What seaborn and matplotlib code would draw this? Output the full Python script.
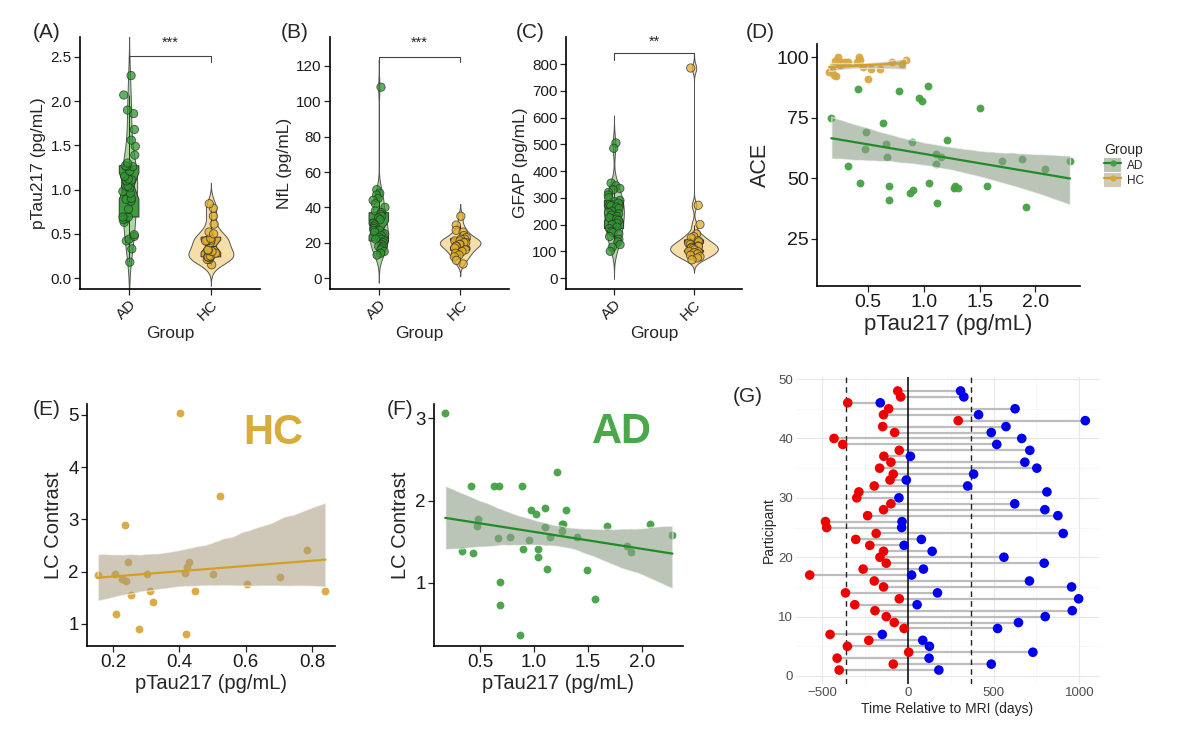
import numpy as np
import pandas as pd
import matplotlib
matplotlib.use('Agg')
import matplotlib.pyplot as plt
import seaborn as sns
from matplotlib.lines import Line2D
from matplotlib.patches import Patch
from matplotlib.legend_handler import HandlerTuple

# ---- panels A-C : biomarkers by group ----
ad_ptau = [0.18, 0.33, 0.42, 0.44, 0.47, 0.49, 0.63, 0.67, 0.66, 0.69, 0.69, 0.78, 0.87,
           0.89, 0.90, 0.96, 0.98, 1.02, 1.04, 1.04, 1.10, 1.11, 1.12, 1.15, 1.21, 1.26,
           1.26, 1.27, 1.30, 1.39, 1.49, 1.56, 1.68, 1.86, 1.90, 2.07, 2.29]
hc_ptau = [0.15, 0.21, 0.21, 0.23, 0.24, 0.24, 0.24, 0.25, 0.28, 0.30, 0.31, 0.32, 0.40,
           0.42, 0.42, 0.43, 0.42, 0.45, 0.52, 0.50, 0.61, 0.70, 0.79, 0.84]
ad_nfl = [108, 50, 48, 47, 45, 44, 42, 40, 38, 37, 36, 35, 34, 33, 31, 31, 30, 29, 28,
          27, 27, 26, 25, 24, 23, 22, 22, 21, 20, 19, 18, 18, 17, 16, 15, 14, 13]
hc_nfl = [35, 30, 27, 26, 24, 23, 22, 22, 21, 21, 20, 20, 19, 19, 18, 18, 17, 16, 15,
          14, 13, 12, 10, 8]
ad_gfap = [505, 485, 355, 345, 335, 330, 320, 310, 300, 290, 285, 280, 275, 270, 265, 260,
           250, 245, 240, 235, 230, 225, 220, 215, 205, 200, 190, 185, 175, 170, 165, 155,
           145, 135, 125, 115, 100]
hc_gfap = [785, 272, 200, 165, 155, 150, 140, 135, 130, 125, 120, 118, 115, 112, 110, 105,
           100, 98, 95, 90, 85, 80, 75, 68]

# ---- panel D : ACE vs pTau217 ----
d_ad_ptau = [0.17, 0.32, 0.41, 0.43, 0.48, 0.63, 0.47, 0.66, 0.67, 0.69, 0.69, 0.78, 0.88,
             0.90, 0.89, 0.96, 0.98, 1.04, 1.05, 1.11, 1.11, 1.12, 1.15, 1.21, 1.27, 1.28,
             1.31, 1.50, 1.57, 1.70, 1.88, 1.92, 2.09, 2.31]
d_ad_ace = [75, 55, 87, 48, 69, 73, 62, 64, 59, 47, 41, 86, 44, 45, 65, 83, 82, 88, 48, 60,
            56, 40, 59, 66, 46, 47, 46, 79, 47, 57, 58, 38, 54, 57]
d_hc_ptau = [0.15, 0.18, 0.19, 0.20, 0.21, 0.23, 0.25, 0.26, 0.29, 0.32, 0.40, 0.42, 0.43,
             0.45, 0.50, 0.53, 0.61, 0.71, 0.80, 0.84]
d_hc_ace = [94.0, 94.5, 92.6, 98.4, 92.0, 100, 96.6, 98.0, 97.9, 97.9, 97.9, 100, 98.6,
            95.9, 91.0, 94.9, 94.9, 98.1, 97.0, 98.9]

# ---- panels E, F : LC contrast vs pTau217 ----
e_ptau = [0.154, 0.207, 0.208, 0.227, 0.240, 0.236, 0.244, 0.254, 0.277, 0.301, 0.311, 0.321,
          0.403, 0.418, 0.422, 0.429, 0.421, 0.447, 0.522, 0.500, 0.605, 0.702, 0.785, 0.840]
e_lc = [1.93, 1.96, 1.19, 1.87, 1.83, 2.90, 2.18, 1.55, 0.90, 1.96, 1.64, 1.42, 5.03, 1.98,
        2.09, 2.19, 0.80, 1.63, 3.44, 1.96, 1.77, 1.90, 2.41, 1.64]
f_ptau = [0.178, 0.330, 0.416, 0.435, 0.469, 0.485, 0.633, 0.673, 0.664, 0.686, 0.689, 0.781,
          0.874, 0.893, 0.899, 0.958, 0.976, 1.020, 1.035, 1.041, 1.103, 1.106, 1.119, 1.150,
          1.211, 1.255, 1.258, 1.273, 1.298, 1.394, 1.493, 1.564, 1.678, 1.861, 1.898, 2.071,
          2.282]
f_lc = [3.06, 1.39, 2.18, 1.36, 1.69, 1.78, 2.18, 2.17, 1.54, 1.01, 0.73, 1.56, 0.37, 2.17,
        1.41, 1.52, 1.88, 1.84, 1.41, 1.31, 1.68, 1.91, 1.17, 1.56, 2.35, 1.72, 1.63, 1.71,
        1.88, 1.56, 1.16, 0.81, 1.69, 1.45, 1.37, 1.71, 1.58]

# ---- panel G : sample timing per participant (1..48) ----
participant = list(range(1, 49))
red_days = [-402, -86, -414, 4, -354, -229, -455, -23, -80, -127, -193, -311, -51, -365, -143,
            -197, -574, -262, -127, -164, -143, -223, -305, -186, -475, -482, -236, -143, -100,
            -299, -287, -197, -105, -86, -166, -100, -141, -51, -381, -432, -78, -148, 293,
            -143, -113, -352, -43, -60]
blue_days = [180, 486, 123, 729, 125, 86, -150, 523, 645, 801, 959, 53, 996, 172, 955, 709, 21,
             90, 795, 560, 141, -23, 78, 906, -37, -35, 875, 799, 623, -53, 811, 348, -10, 383,
             752, 682, 14, 711, 518, 664, 486, 572, 1035, 412, 625, -162, 326, 307]

# colours
violin_pal = {'AD': '#acd9a2', 'HC': '#f6dea8'}
box_pal = {'AD': '#3e9b3e', 'HC': '#dba93a'}
pt_pal = {'AD': '#2f962f', 'HC': '#e0ad2c'}
ad_col = '#44a044'
hc_col = '#d8a73c'
ad_line = '#1f8c24'
hc_line = '#d4a020'
ad_band = '#8c9f8a'
hc_band = '#a89c80'

sns.set_style('ticks')
plt.rcParams['font.family'] = ['Liberation Sans', 'DejaVu Sans']
plt.rcParams['axes.linewidth'] = 1.2
np.random.seed(3)

W, H = 1200, 735
fig = plt.figure(figsize=(12, 7.35), dpi=100)


def box(l, t, r, b):
    return [l / W, 1 - b / H, (r - l) / W, (b - t) / H]


def nrd0(kde):
    # R's default bandwidth rule, as a factor of the sample sd
    d = np.asarray(kde.dataset).ravel()
    sd = d.std(ddof=1)
    iqr = np.subtract(*np.percentile(d, [75, 25]))
    h = 0.9 * min(sd, iqr / 1.34) * d.size ** -0.2
    return h / sd


def style_classic(ax, tsize):
    sns.despine(ax=ax)
    ax.spines['left'].set_color('black')
    ax.spines['bottom'].set_color('black')
    ax.tick_params(axis='both', direction='out', length=4, width=0.9, color='#222222',
                   labelsize=tsize, labelcolor='#1a1a1a', pad=2)


def violin_panel(ax, ad, hc, ylab, ylim, yticks, fmt, sig, stars, vwidth):
    df = pd.DataFrame({'Group': ['AD'] * len(ad) + ['HC'] * len(hc), 'value': ad + hc})
    sns.violinplot(data=df, x='Group', y='value', hue='Group', palette=violin_pal, inner=None,
                   cut=3, bw_method=nrd0, density_norm='area', common_norm=True,
                   width=vwidth, linewidth=0.7, linecolor='#555555', saturation=1,
                   legend=False, ax=ax)
    n_patch = len(ax.patches)
    n_line = len(ax.lines)
    sns.boxplot(data=df, x='Group', y='value', hue='Group', palette=box_pal, width=0.24,
                notch=True, showfliers=False, showcaps=False, linewidth=0.7,
                linecolor='#333333', saturation=1, legend=False, ax=ax)
    for p in ax.patches[n_patch:]:
        p.set_zorder(2)
    for ln in ax.lines[n_line:]:
        ln.set_zorder(2.1)
    n_coll = len(ax.collections)
    sns.stripplot(data=df, x='Group', y='value', hue='Group', palette=pt_pal, jitter=0.08,
                  size=6, linewidth=0.6, edgecolor='#2a2a2a', alpha=0.75, legend=False, ax=ax)
    for c in ax.collections[n_coll:]:
        c.set_zorder(3)
    style_classic(ax, 11)
    ax.set_xlim(-0.6, 1.6)
    ax.set_ylim(*ylim)
    ax.set_yticks(yticks)
    ax.set_yticklabels([fmt.format(v) for v in yticks])
    ax.set_xticks([0, 1])
    ax.set_xticklabels(['AD', 'HC'], rotation=45, ha='right', rotation_mode='anchor')
    ax.set_ylabel(ylab, fontsize=12.5, labelpad=3)
    ax.set_xlabel('Group', fontsize=12.5, labelpad=2)
    bar_y, tick_y, star_y = sig
    ax.plot([0, 0, 1, 1], [tick_y, bar_y, bar_y, tick_y], color='#444444', lw=0.8,
            clip_on=False, zorder=5)
    ax.text(0.5, star_y, stars, ha='center', va='center', fontsize=10.5)


def reg_line(ax, x, y, line_c, band_c, band_a):
    n0 = len(ax.collections)
    sns.regplot(x=np.array(x), y=np.array(y), scatter=False, ci=95, seed=1, truncate=True,
                color=line_c, line_kws={'lw': 1.6, 'zorder': 4}, ax=ax)
    for coll in ax.collections[n0:]:
        coll.set_facecolor(band_c)
        coll.set_alpha(band_a)
        coll.set_zorder(3)


# (A)
axA = fig.add_axes(box(80, 37, 260, 289))
violin_panel(axA, ad_ptau, hc_ptau, 'pTau217 (pg/mL)', (-0.124, 2.726),
             [0, 0.5, 1.0, 1.5, 2.0, 2.5], '{:.1f}', (2.51, 2.44, 2.66), '***', 0.55)

# (B)
axB = fig.add_axes(box(330, 37, 509, 289))
violin_panel(axB, ad_nfl, hc_nfl, 'NfL (pg/mL)', (-6.2, 136.4),
             [0, 20, 40, 60, 80, 100, 120], '{:d}', (125.1, 122.3, 133), '***', 0.5)

# (C)
axC = fig.add_axes(box(566, 37, 742, 289))
violin_panel(axC, ad_gfap, hc_gfap, 'GFAP (pg/mL)', (-41, 901),
             list(range(0, 801, 100)), '{:d}', (841, 815, 882), '**', 0.6)

# (D)
axD = fig.add_axes(box(817, 44, 1080, 286))
sns.scatterplot(x=d_ad_ptau, y=d_ad_ace, color=ad_col, s=32, linewidth=0, alpha=0.95,
                zorder=2, ax=axD)
sns.scatterplot(x=d_hc_ptau, y=d_hc_ace, color=hc_col, s=32, linewidth=0, alpha=0.95,
                zorder=2, ax=axD)
reg_line(axD, d_ad_ptau, d_ad_ace, ad_line, ad_band, 0.6)
reg_line(axD, d_hc_ptau, d_hc_ace, hc_line, hc_band, 0.55)
style_classic(axD, 14)
axD.set_xlim(0.042, 2.40)
axD.set_ylim(5.6, 105.4)
axD.set_xticks([0.5, 1.0, 1.5, 2.0])
axD.set_xticklabels(['0.5', '1.0', '1.5', '2.0'])
axD.set_yticks([25, 50, 75, 100])
axD.set_xlabel('pTau217 (pg/mL)', fontsize=16, labelpad=2)
axD.set_ylabel('ACE', fontsize=15.5, labelpad=4)
hd_ad = (Patch(facecolor='#b8c4b6', edgecolor='none'),
         Line2D([], [], color=ad_line, lw=1.6, marker='o', ms=4.5, mfc=ad_col, mec='none'))
hd_hc = (Patch(facecolor='#d0c9b8', edgecolor='none'),
         Line2D([], [], color=hc_line, lw=1.6, marker='o', ms=4.5, mfc=hc_col, mec='none'))
leg = axD.legend([hd_ad, hd_hc], ['AD', 'HC'], title='Group',
                 handler_map={tuple: HandlerTuple(ndivide=1, pad=0)},
                 loc='center left', bbox_to_anchor=(1.05, 0.5), frameon=False, fontsize=8.5,
                 title_fontsize=10, handlelength=1.5, handleheight=1.5, labelspacing=0.05,
                 handletextpad=0.5)
leg._legend_box.align = 'left'

# (E)
axE = fig.add_axes(box(87, 404, 335, 646))
sns.scatterplot(x=e_ptau, y=e_lc, color=hc_col, s=32, linewidth=0, alpha=0.95, zorder=2,
                ax=axE)
reg_line(axE, e_ptau, e_lc, hc_line, hc_band, 0.55)
style_classic(axE, 13.5)
axE.set_xlim(0.1216, 0.869)
axE.set_ylim(0.579, 5.21)
axE.set_xticks([0.2, 0.4, 0.6, 0.8])
axE.set_yticks([1, 2, 3, 4, 5])
axE.set_xlabel('pTau217 (pg/mL)', fontsize=14.5, labelpad=2)
axE.set_ylabel('LC Contrast', fontsize=14.5, labelpad=4)
axE.text(0.75, 0.88, 'HC', transform=axE.transAxes, ha='center', va='center',
         fontsize=30, fontweight='bold', color='#d9ab3a')

# (F)
axF = fig.add_axes(box(434, 404, 683, 646))
sns.scatterplot(x=f_ptau, y=f_lc, color=ad_col, s=32, linewidth=0, alpha=0.95, zorder=2,
                ax=axF)
reg_line(axF, f_ptau, f_lc, ad_line, ad_band, 0.6)
style_classic(axF, 13.5)
axF.set_xlim(0.074, 2.38)
axF.set_ylim(0.236, 3.17)
axF.set_xticks([0.5, 1.0, 1.5, 2.0])
axF.set_xticklabels(['0.5', '1.0', '1.5', '2.0'])
axF.set_yticks([1, 2, 3])
axF.set_xlabel('pTau217 (pg/mL)', fontsize=14.5, labelpad=2)
axF.set_ylabel('LC Contrast', fontsize=14.5, labelpad=4)
axF.text(0.755, 0.884, 'AD', transform=axF.transAxes, ha='center', va='center',
         fontsize=30, fontweight='bold', color='#4aa84a')

# (G)
axG = fig.add_axes(box(796, 377, 1099, 684))
gdf = pd.DataFrame({'participant': participant * 2,
                    'days': red_days + blue_days,
                    'kind': ['red'] * 48 + ['blue'] * 48})
axG.hlines(participant, red_days, blue_days, color='#bdbdbd', lw=1.6, zorder=1)
sns.scatterplot(data=gdf, x='days', y='participant', hue='kind',
                palette={'red': '#ee0000', 'blue': '#0000ee'}, s=48, linewidth=0,
                legend=False, zorder=3, ax=axG)
axG.axvline(0, color='black', lw=1.1, zorder=2)
axG.axvline(-365, color='#222222', lw=1.0, ls=(0, (4, 3)), zorder=2)
axG.axvline(365, color='#222222', lw=1.0, ls=(0, (4, 3)), zorder=2)
axG.set_xlim(-654, 1115)
axG.set_ylim(-1.35, 50.35)
axG.set_xticks([-500, 0, 500, 1000])
axG.set_yticks([0, 10, 20, 30, 40, 50])
axG.set_xticks([-250, 250, 750], minor=True)
axG.set_yticks([5, 15, 25, 35, 45], minor=True)
axG.grid(True, which='major', color='#e8e8e8', lw=0.8)
axG.grid(True, which='minor', color='#f4f4f4', lw=0.5)
axG.set_axisbelow(True)
for s in axG.spines.values():
    s.set_visible(False)
axG.tick_params(which='both', length=0, labelsize=9.5, labelcolor='#4d4d4d', pad=2)
axG.set_xlabel('Time Relative to MRI (days)', fontsize=10, labelpad=2)
axG.set_ylabel('Participant', fontsize=10, labelpad=2)

# panel tags
for tag, x, y in [('(A)', 47, 33), ('(B)', 295, 33), ('(C)', 530, 33), ('(D)', 760, 33),
                  ('(E)', 47, 410), ('(F)', 400, 410), ('(G)', 748, 397)]:
    fig.text(x / W, 1 - y / H, tag, ha='center', va='center', fontsize=15)

fig.savefig('out.png', dpi=100, facecolor='white')
